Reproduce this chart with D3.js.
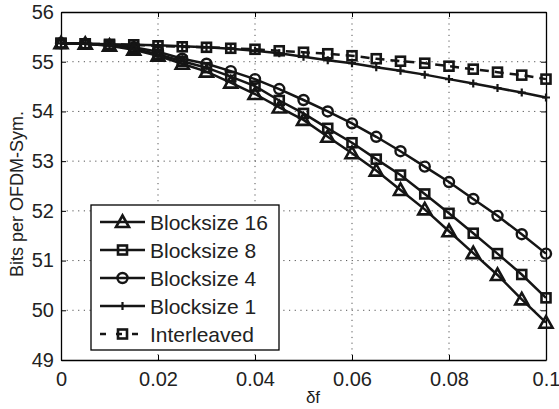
<!DOCTYPE html>
<html>
<head>
<meta charset="utf-8">
<script src="https://cdn.jsdelivr.net/npm/d3@7"></script>
<style>
  body { margin: 0; background: #fff; }
  svg { display: block; font-family: "Liberation Sans", Arial, sans-serif; }
</style>
</head>
<body>
<svg id="chart" width="559" height="409"></svg>
<script>
// data, step 0.005 in delta f
var deltaF = [0, 0.005, 0.01, 0.015, 0.02, 0.025, 0.03, 0.035, 0.04, 0.045, 0.05,
              0.055, 0.06, 0.065, 0.07, 0.075, 0.08, 0.085, 0.09, 0.095, 0.1];
var block16 = [55.37, 55.36, 55.32, 55.24, 55.12, 54.96, 54.80, 54.58, 54.35, 54.08, 53.83,
               53.49, 53.16, 52.81, 52.42, 52.03, 51.59, 51.15, 50.71, 50.22, 49.75];
var block8 = [55.37, 55.36, 55.33, 55.26, 55.15, 55.01, 54.88, 54.70, 54.51, 54.22, 53.96,
              53.66, 53.37, 53.04, 52.72, 52.34, 51.95, 51.55, 51.14, 50.72, 50.25];
var block4 = [55.37, 55.36, 55.33, 55.29, 55.20, 55.06, 54.96, 54.81, 54.65, 54.45, 54.23,
              54.00, 53.76, 53.49, 53.20, 52.89, 52.58, 52.24, 51.90, 51.53, 51.14];
var block1 = [55.37, 55.36, 55.35, 55.34, 55.33, 55.31, 55.29, 55.26, 55.22, 55.17, 55.10,
              55.03, 54.97, 54.89, 54.82, 54.74, 54.65, 54.56, 54.47, 54.38, 54.28];
var interleaved = [55.37, 55.36, 55.35, 55.34, 55.32, 55.30, 55.29, 55.27, 55.25, 55.22, 55.19,
                   55.16, 55.12, 55.06, 55.01, 54.97, 54.91, 54.85, 54.79, 54.73, 54.65];
var xTicks = [0, 0.02, 0.04, 0.06, 0.08, 0.1];
var xTickLabels = ['0', '0.02', '0.04', '0.06', '0.08', '0.1'];
var yTicks = [49, 50, 51, 52, 53, 54, 55, 56];

var series = [
    {name: 'Blocksize 16', values: block16, marker: 'triangle', dash: null},
    {name: 'Blocksize 8', values: block8, marker: 'square', dash: null},
    {name: 'Blocksize 4', values: block4, marker: 'circle', dash: null},
    {name: 'Blocksize 1', values: block1, marker: 'plus', dash: null},
    {name: 'Interleaved', values: interleaved, marker: 'square', dash: '9,6'}
];

var svg = d3.select('#chart');
var plotLeft = 61, plotRight = 546, plotTop = 12, plotBottom = 360;
var ink = '#151515';

var x = d3.scaleLinear().domain([0, 0.1]).range([plotLeft, plotRight]);
var y = d3.scaleLinear().domain([49, 56]).range([plotBottom, plotTop]);

// grid
var grid = svg.append('g').attr('class', 'grid');
grid.selectAll('.gx')
    .data(xTicks.slice(1, -1))
  .enter().append('line')
    .attr('x1', function (d) { return x(d); })
    .attr('x2', function (d) { return x(d); })
    .attr('y1', plotTop).attr('y2', plotBottom)
    .style('stroke', '#555').style('stroke-width', 1).style('stroke-dasharray', '1.2,4.5');
grid.selectAll('.gy')
    .data(yTicks.slice(1, -1))
  .enter().append('line')
    .attr('y1', function (d) { return y(d); })
    .attr('y2', function (d) { return y(d); })
    .attr('x1', plotLeft).attr('x2', plotRight)
    .style('stroke', '#555').style('stroke-width', 1).style('stroke-dasharray', '1.2,4.5');

// axes
var xAxis = d3.axisBottom(x).tickValues(xTicks)
    .tickFormat(function (d, i) { return xTickLabels[i]; })
    .tickSizeInner(-5).tickSizeOuter(0).tickPadding(12);
var yAxis = d3.axisLeft(y).tickValues(yTicks)
    .tickFormat(d3.format('d'))
    .tickSizeInner(-5).tickSizeOuter(0).tickPadding(7);

var gx = svg.append('g').attr('transform', 'translate(0,' + plotBottom + ')').call(xAxis);
var gy = svg.append('g').attr('transform', 'translate(' + plotLeft + ',0)').call(yAxis);
// mirrored ticks on top and right
svg.append('g').attr('transform', 'translate(0,' + plotTop + ')')
    .call(d3.axisTop(x).tickValues(xTicks).tickFormat('').tickSizeInner(-5).tickSizeOuter(0));
svg.append('g').attr('transform', 'translate(' + plotRight + ',0)')
    .call(d3.axisRight(y).tickValues(yTicks).tickFormat('').tickSizeInner(-5).tickSizeOuter(0));

svg.selectAll('.domain').style('stroke', '#000').style('stroke-width', 1.3);
svg.selectAll('.tick line').style('stroke', '#000');
svg.selectAll('.tick text').style('font-size', '20px').style('fill', '#222')
    .style('font-family', '"Liberation Sans", Arial, sans-serif');
gx.selectAll('.tick text').attr('dy', '0.71em');

svg.append('text')
    .attr('x', 313).attr('y', 403)
    .style('text-anchor', 'middle').style('font-size', '17px').style('fill', '#222')
    .text('δf');
svg.append('text')
    .attr('transform', 'translate(23,194) rotate(-90)')
    .style('text-anchor', 'middle').style('font-size', '18px').style('fill', '#222')
    .text('Bits per OFDM-Sym.');

// markers
function drawMarker(g, type, cx, cy) {
    if (type === 'triangle') {
        g.append('path')
            .attr('d', 'M' + cx + ',' + (cy - 6.5) + 'L' + (cx + 6.5) + ',' + (cy + 5) + 'L' + (cx - 6.5) + ',' + (cy + 5) + 'Z')
            .style('fill', 'none').style('stroke', ink).style('stroke-width', 2.6);
    } else if (type === 'square') {
        g.append('rect')
            .attr('x', cx - 4.5).attr('y', cy - 4.5).attr('width', 9).attr('height', 9)
            .style('fill', 'none').style('stroke', ink).style('stroke-width', 2.6);
    } else if (type === 'circle') {
        g.append('circle')
            .attr('cx', cx).attr('cy', cy).attr('r', 5)
            .style('fill', 'none').style('stroke', ink).style('stroke-width', 2.4);
    } else if (type === 'plus') {
        g.append('path')
            .attr('d', 'M' + (cx - 4) + ',' + cy + 'H' + (cx + 4) + 'M' + cx + ',' + (cy - 4) + 'V' + (cy + 4))
            .style('fill', 'none').style('stroke', ink).style('stroke-width', 2.2);
    }
}

var line = d3.line()
    .x(function (d) { return x(d[0]); })
    .y(function (d) { return y(d[1]); });

// draw back to front so Blocksize 16 ends on top
series.slice().reverse().forEach(function (s) {
    var pts = deltaF.map(function (f, i) { return [f, s.values[i]]; });
    var g = svg.append('g').attr('class', 'series');
    g.append('path')
        .datum(pts)
        .attr('d', line)
        .style('fill', 'none').style('stroke', ink).style('stroke-width', 2.5)
        .style('stroke-dasharray', s.dash);
    pts.forEach(function (p) {
        drawMarker(g, s.marker, x(p[0]), y(p[1]));
    });
});

// legend
var legend = svg.append('g').attr('class', 'legend');
legend.append('rect')
    .attr('x', 91).attr('y', 205).attr('width', 188).attr('height', 145)
    .style('fill', '#fff').style('stroke', '#000').style('stroke-width', 1.3);
series.forEach(function (s, i) {
    var ly = 222 + i * 28;
    var g = legend.append('g');
    g.append('line')
        .attr('x1', 100).attr('x2', 145).attr('y1', ly).attr('y2', ly)
        .style('stroke', ink).style('stroke-width', 2.5)
        .style('stroke-dasharray', s.dash ? '6,10' : null);
    drawMarker(g, s.marker, 122.5, ly);
    g.append('text')
        .attr('x', 150).attr('y', ly + 7.5)
        .style('font-size', '21px').style('fill', '#222')
        .text(s.name);
});
</script>
</body>
</html>
